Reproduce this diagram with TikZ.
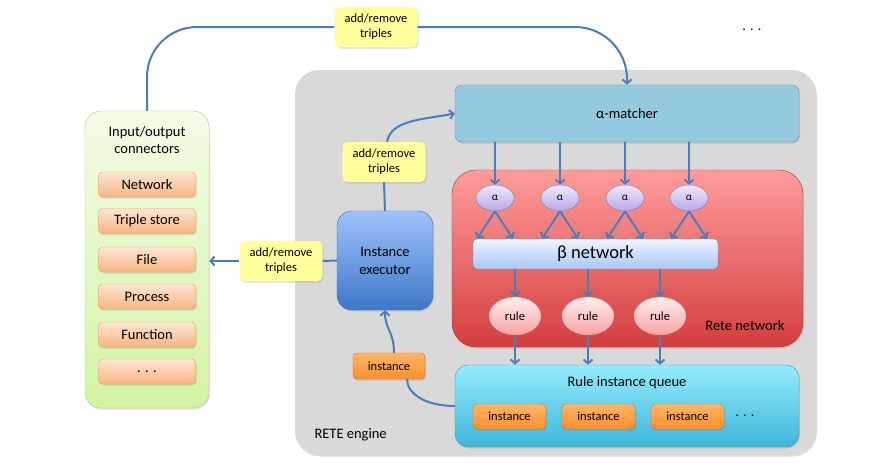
\documentclass[tikz,border=0pt]{standalone}
\usepackage{fontspec}
\setmainfont{Carlito}
\usetikzlibrary{arrows.meta,shadows,shapes.geometric,positioning}
\definecolor{linkblue}{HTML}{4A7EBB}
\definecolor{enginegray}{HTML}{D9D9D9}
\definecolor{iotop}{HTML}{F4FBE8}
\definecolor{iobot}{HTML}{D2F4A2}
\definecolor{ioline}{HTML}{B0CF80}
\definecolor{itemtop}{HTML}{FDE6D2}
\definecolor{itembot}{HTML}{F9B482}
\definecolor{itemline}{HTML}{EFA060}
\definecolor{notey}{HTML}{FFFF9C}
\definecolor{matchfill}{HTML}{93CADD}
\definecolor{matchline}{HTML}{7C7CB4}
\definecolor{retetop}{HTML}{FF9C9C}
\definecolor{retebot}{HTML}{D43E3E}
\definecolor{alphatop}{HTML}{EEE8FC}
\definecolor{alphabot}{HTML}{B8A8E6}
\definecolor{betatop}{HTML}{EEF4FF}
\definecolor{betabot}{HTML}{A8C6F6}
\definecolor{ruletop}{HTML}{FFEDED}
\definecolor{rulebot}{HTML}{F7A2A2}
\definecolor{queuetop}{HTML}{94ECFE}
\definecolor{queuebot}{HTML}{3EB6D8}
\definecolor{insttop}{HTML}{FFB566}
\definecolor{instbot}{HTML}{FB8E2E}
\definecolor{exectop}{HTML}{9EC2FA}
\definecolor{execbot}{HTML}{3D78C8}
\begin{document}
\begin{tikzpicture}[x=1pt,y=-1pt,
    >={Straight Barb[length=4pt,width=9pt]},
    conn/.style={draw=linkblue,line width=2pt},
    shade/.style={drop shadow={shadow xshift=1pt,shadow yshift=-1.5pt,opacity=0.25}},
    ioitem/.style={shade,draw=itemline,top color=itemtop,bottom color=itembot,rounded corners=4pt,minimum width=97pt,minimum height=25pt,inner sep=0pt,font=\fontsize{14.5}{16}\selectfont},
    tag/.style={shade,fill=notey,rounded corners=5pt,minimum width=83pt,minimum height=40pt,inner sep=0pt,align=center,font=\fontsize{12.5}{15}\selectfont},
    instbox/.style={shade,draw=instbot!80!black,top color=insttop,bottom color=instbot,rounded corners=4pt,minimum width=73pt,minimum height=25pt,inner sep=0pt,font=\fontsize{12.5}{14}\selectfont},
    alphanode/.style={ellipse,draw=matchline,top color=alphatop,bottom color=alphabot,minimum width=38pt,minimum height=26pt,inner sep=0pt,font=\fontsize{11}{12}\selectfont},
    rulenode/.style={ellipse,draw=rulebot!90!black,top color=ruletop,bottom color=rulebot,minimum width=52pt,minimum height=38pt,inner sep=0pt,font=\fontsize{12.5}{14}\selectfont}]
\useasboundingbox (0,0) rectangle (889,475);
% input/output side
\node[shade,draw=ioline,top color=iotop,bottom color=iobot,rounded corners=16pt,minimum width=124pt,minimum height=297pt] (io) at (147,259.5) {};
\node[align=center,font=\fontsize{14.5}{17}\selectfont] (iotitle) at (147,140) {Input/output\\connectors};
\foreach \i/\y/\t in {1/184.5/Network,2/221/Triple store,3/259.5/File,4/296.5/Process,5/334.5/Function,6/371.5/. . .}
    \node[ioitem] (item\i) at (147,\y) {\t};
% engine
\node[shade,fill=enginegray,rounded corners=24pt,minimum width=521pt,minimum height=385pt] (engine) at (555.5,262.5) {};
\node[anchor=west,font=\fontsize{14.5}{17}\selectfont] (enginetitle) at (311,435) {RETE engine};
\node[shade,draw=matchline,fill=matchfill,rounded corners=7pt,minimum width=344pt,minimum height=57pt,font=\fontsize{14.5}{16}\selectfont] (matcher) at (627,113.5) {α-matcher};
\node[shade,draw=retebot!80!black,top color=retetop,bottom color=retebot,rounded corners=24pt,minimum width=351pt,minimum height=177pt] (rete) at (627.5,258.5) {};
\node[anchor=east,font=\fontsize{14.5}{17}\selectfont] (retetitle) at (788,326) {Rete network};
\foreach \i/\x in {1/495,2/560,3/625,4/689}
    \node[alphanode] (alpha\i) at (\x,198) {α};
\node[draw=betabot!70!black,top color=betatop,bottom color=betabot,rounded corners=4pt,minimum width=245pt,minimum height=30pt,font=\fontsize{18.5}{20}\selectfont] (beta) at (595.5,254) {β network};
\foreach \i/\x in {1/515,2/588,3/660}
    \node[rulenode] (rule\i) at (\x,316) {rule};
\node[shade,draw=queuebot!85!black,top color=queuetop,bottom color=queuebot,rounded corners=13pt,minimum width=344pt,minimum height=82pt] (queue) at (627,406) {};
\node[font=\fontsize{14.5}{16}\selectfont] (queuetitle) at (627,383) {Rule instance queue};
\foreach \i/\x in {1/509.5,2/598.5,3/687.5}
    \node[instbox] (inst\i) at (\x,416.5) {instance};
\node[font=\fontsize{14}{16}\selectfont] (queuedots) at (745,416) {. . .};
\node[shade,draw=execbot!90!black,top color=exectop,bottom color=execbot,rounded corners=15pt,minimum width=96pt,minimum height=99pt,align=center,font=\fontsize{14.5}{18}\selectfont] (exec) at (385,260.5) {Instance\\executor};
% labels on the connectors
\node[tag] (tagtop) at (376,27) {add/remove\\triples};
\node[tag] (tagmid) at (384,162) {add/remove\\triples};
\node[tag] (tagleft) at (281,261) {add/remove\\triples};
\node[instbox,minimum width=72pt,minimum height=26pt] (taginst) at (389,366) {instance};
\node[font=\fontsize{14}{16}\selectfont] (topdots) at (752,30) {. . .};
% connectors
\draw[conn,rounded corners=50pt] (io.north) |- (tagtop.west);
\draw[conn,->,rounded corners=52pt] (tagtop.east) -| (matcher.north);
\draw[conn] (exec.north) -- (tagmid.south);
\draw[conn,->] ([xshift=3pt]tagmid.north) .. controls +(4,-22) and +(-32,6) .. (matcher.west);
\draw[conn] (exec.west) -- (tagleft.east);
\draw[conn,->] (tagleft.west) -- (tagleft.west -| io.east);
\draw[conn] (queue.west) .. controls +(-30,0) and +(0,14) .. ([xshift=18pt]taginst.south);
\draw[conn,->] ([xshift=5pt]taginst.north) .. controls +(0,-22) and +(0,20) .. (exec.south);
\foreach \i in {1,...,4} {
    \draw[conn,->] (alpha\i.north |- matcher.south) -- (alpha\i.north);
    \draw[conn,->] (alpha\i.south) -- ([xshift=-18pt]alpha\i.south |- beta.north);
    \draw[conn,->] (alpha\i.south) -- ([xshift=18pt]alpha\i.south |- beta.north);
}
\foreach \i in {1,2,3} {
    \draw[conn,->] (rule\i.north |- beta.south) -- (rule\i.north);
    \draw[conn,->] (rule\i.south) -- (rule\i.south |- queue.north);
}
\end{tikzpicture}
\end{document}
